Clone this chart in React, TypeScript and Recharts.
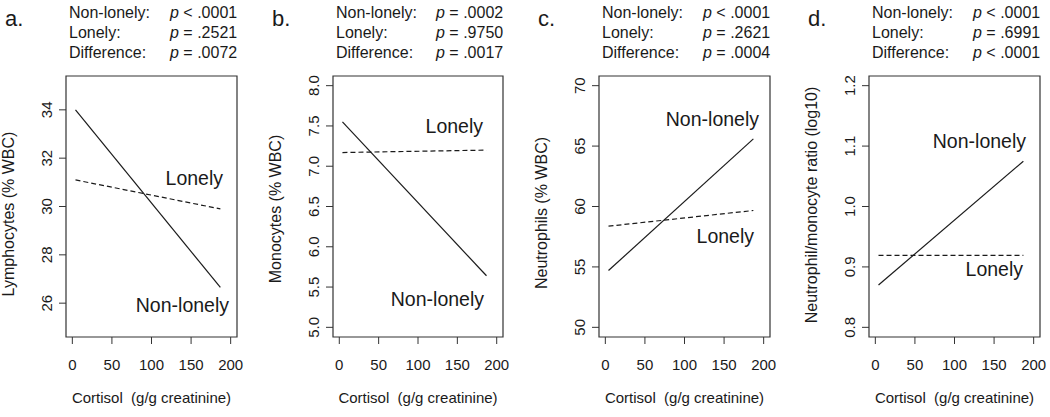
// Four small panels: cortisol vs. leukocyte subsets, lonely vs. non-lonely
// fitted lines. R-style box plots — solid = non-lonely, dashed = lonely.
import { Line, LineChart, ReferenceArea, XAxis, YAxis } from "recharts";

const FONT = '"Liberation Sans", Arial, Helvetica, sans-serif';
const INK = "#1a1a1a";

// shared x values (cortisol, g/g creatinine) at the ends of each fit line
const cortisol = [4, 187];
const cortisolTicks = [0, 50, 100, 150, 200];

const lymphocytesNonLonely = [34.0, 26.65];
const lymphocytesLonely = [31.1, 29.9];
const lymphocyteTicks = [26, 28, 30, 32, 34];

const monocytesNonLonely = [7.55, 5.64];
const monocytesLonely = [7.17, 7.2];
const monocyteTicks = [5.0, 5.5, 6.0, 6.5, 7.0, 7.5, 8.0];

const neutrophilsNonLonely = [54.7, 65.6];
const neutrophilsLonely = [58.37, 59.67];
const neutrophilTicks = [50, 55, 60, 65, 70];

const ratioNonLonely = [0.87, 1.075];
const ratioLonely = [0.919, 0.919];
const ratioTicks = [0.8, 0.9, 1.0, 1.1, 1.2];

const rowLabels = ["Non-lonely:", "Lonely:", "Difference:"];
const pLymphocytes = ["< .0001", "= .2521", "= .0072"];
const pMonocytes = ["= .0002", "= .9750", "= .0017"];
const pNeutrophils = ["< .0001", "= .2621", "= .0004"];
const pRatio = ["< .0001", "= .6991", "< .0001"];

type Panel = {
  letter: string;
  yTitle: string;
  nonLonely: number[];
  lonely: number[];
  yDomain: [number, number];
  yTicks: number[];
  digits: number;
  pValues: string[];
  box: [number, number]; // plot left / right in px
  titleMid: number; // vertical centre of the rotated y title
  lonelyLabel: [number, number]; // right edge, baseline
  nonLonelyLabel: [number, number];
};

const panels: Panel[] = [
  {
    letter: "a.",
    yTitle: "Lymphocytes (% WBC)",
    nonLonely: lymphocytesNonLonely,
    lonely: lymphocytesLonely,
    yDomain: [24.6, 35.4],
    yTicks: lymphocyteTicks,
    digits: 0,
    pValues: pLymphocytes,
    box: [66, 237],
    titleMid: 214,
    lonelyLabel: [223, 185],
    nonLonelyLabel: [229, 312],
  },
  {
    letter: "b.",
    yTitle: "Monocytes (% WBC)",
    nonLonely: monocytesNonLonely,
    lonely: monocytesLonely,
    yDomain: [4.88, 8.12],
    yTicks: monocyteTicks,
    digits: 1,
    pValues: pMonocytes,
    box: [333, 503],
    titleMid: 209,
    lonelyLabel: [483, 133],
    nonLonelyLabel: [484, 306],
  },
  {
    letter: "c.",
    yTitle: "Neutrophils (% WBC)",
    nonLonely: neutrophilsNonLonely,
    lonely: neutrophilsLonely,
    yDomain: [49.2, 70.8],
    yTicks: neutrophilTicks,
    digits: 0,
    pValues: pNeutrophils,
    box: [599, 770],
    titleMid: 213,
    lonelyLabel: [754, 243],
    nonLonelyLabel: [759, 126],
  },
  {
    letter: "d.",
    yTitle: "Neutrophil/monocyte ratio (log10)",
    nonLonely: ratioNonLonely,
    lonely: ratioLonely,
    yDomain: [0.784, 1.216],
    yTicks: ratioTicks,
    digits: 1,
    pValues: pRatio,
    box: [869, 1040],
    titleMid: 205,
    lonelyLabel: [1023, 276],
    nonLonelyLabel: [1026, 148],
  },
];

const W = 1050;
const H = 417;
const TOP = 76;
const BOTTOM = 337;
const AXIS_W = 30; // room reserved for the y axis
const AXIS_H = 40; // room reserved for the x axis

function PanelChart({ p }: { p: Panel }) {
  const data = cortisol.map((x, i) => ({ x, nonLonely: p.nonLonely[i], lonely: p.lonely[i] }));
  return (
    <div style={{ position: "absolute", left: 0, top: 0 }}>
      <LineChart
        width={W}
        height={H}
        data={data}
        margin={{
          top: TOP,
          bottom: H - BOTTOM - AXIS_H,
          left: p.box[0] - AXIS_W,
          right: W - p.box[1],
        }}
      >
        <XAxis
          dataKey="x"
          type="number"
          domain={[-8, 208]}
          ticks={cortisolTicks}
          height={AXIS_H}
          axisLine={false}
          tickSize={7}
          tickMargin={15}
          tickLine={{ stroke: "#333" }}
          tick={(t: any) => (
            <text
              x={t.x}
              y={t.y}
              dy={11}
              textAnchor="middle"
              fontFamily={FONT}
              fontSize={15}
              fill={INK}
            >
              {t.payload.value}
            </text>
          )}
        />
        <YAxis
          type="number"
          domain={p.yDomain}
          ticks={p.yTicks}
          width={AXIS_W}
          axisLine={false}
          tickSize={7}
          tickMargin={7}
          tickLine={{ stroke: "#333" }}
          allowDataOverflow
          tick={(t: any) => (
            <text
              x={t.x}
              y={t.y}
              transform={`rotate(-90 ${t.x} ${t.y})`}
              textAnchor="middle"
              fontFamily={FONT}
              fontSize={15}
              fill={INK}
            >
              {Number(t.payload.value).toFixed(p.digits)}
            </text>
          )}
        />
        <ReferenceArea
          x1={-8}
          x2={208}
          y1={p.yDomain[0]}
          y2={p.yDomain[1]}
          fill="none"
          stroke="#333"
          strokeWidth={1.2}
        />
        <Line
          dataKey="nonLonely"
          stroke={INK}
          strokeWidth={1.2}
          dot={false}
          isAnimationActive={false}
        />
        <Line
          dataKey="lonely"
          stroke={INK}
          strokeWidth={1.2}
          strokeDasharray="5 3"
          dot={false}
          isAnimationActive={false}
        />
      </LineChart>
    </div>
  );
}

function PanelText({ p }: { p: Panel }) {
  const [left, right] = p.box;
  const yMid = p.titleMid;
  return (
    <g fontFamily={FONT} fill={INK}>
      <text x={left - 61} y={26} fontSize={22}>
        {p.letter}
      </text>
      {rowLabels.map((label, i) => (
        <g key={label} fontSize={16}>
          <text x={left + 3} y={18 + i * 20}>
            {label}
          </text>
          <text x={right - 67} y={18 + i * 20}>
            <tspan fontStyle="italic">p</tspan> {p.pValues[i]}
          </text>
        </g>
      ))}
      <text x={p.lonelyLabel[0]} y={p.lonelyLabel[1]} textAnchor="end" fontSize={19.5}>
        Lonely
      </text>
      <text x={p.nonLonelyLabel[0]} y={p.nonLonelyLabel[1]} textAnchor="end" fontSize={19.5}>
        Non-lonely
      </text>
      <text x={(left + right) / 2} y={403} textAnchor="middle" fontSize={15}>
        {"Cortisol\u00a0 (g/g creatinine)"}
      </text>
      <text
        x={left - 52}
        y={yMid}
        transform={`rotate(-90 ${left - 52} ${yMid})`}
        textAnchor="middle"
        fontSize={16}
      >
        {p.yTitle}
      </text>
    </g>
  );
}

export default function App() {
  return (
    <div
      style={{
        position: "absolute",
        left: 0,
        top: 0,
        width: W,
        height: H,
        background: "#fff",
        overflow: "hidden",
      }}
    >
      {panels.map((p) => (
        <PanelChart key={p.letter} p={p} />
      ))}
      <svg
        width={W}
        height={H}
        style={{ position: "absolute", left: 0, top: 0, pointerEvents: "none" }}
      >
        {panels.map((p) => (
          <PanelText key={p.letter} p={p} />
        ))}
      </svg>
    </div>
  );
}
